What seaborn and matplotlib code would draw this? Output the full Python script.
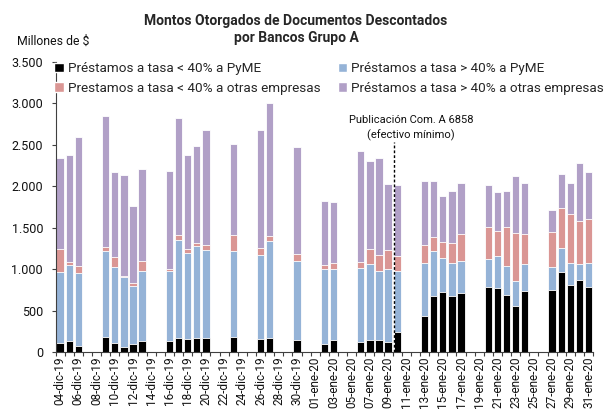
import matplotlib
matplotlib.use("Agg")
import matplotlib.pyplot as plt
import seaborn as sns
import pandas as pd
import numpy as np
from matplotlib.patches import Patch
from matplotlib.ticker import FuncFormatter, FixedLocator

# ---- data ----
all_dates = [f"{d:02d}-dic-19" for d in range(4, 32)] + [f"{d:02d}-ene-20" for d in range(1, 32)]

dates = ["04-dic-19", "05-dic-19", "06-dic-19", "09-dic-19", "10-dic-19", "11-dic-19",
         "12-dic-19", "13-dic-19", "16-dic-19", "17-dic-19", "18-dic-19", "19-dic-19",
         "20-dic-19", "23-dic-19", "26-dic-19", "27-dic-19", "30-dic-19", "02-ene-20",
         "03-ene-20", "06-ene-20", "07-ene-20", "08-ene-20", "09-ene-20", "10-ene-20",
         "13-ene-20", "14-ene-20", "15-ene-20", "16-ene-20", "17-ene-20", "20-ene-20",
         "21-ene-20", "22-ene-20", "23-ene-20", "24-ene-20", "27-ene-20", "28-ene-20",
         "29-ene-20", "30-ene-20", "31-ene-20"]

pyme_low = [110, 133, 69, 182, 114, 65, 93, 133, 133, 170, 162, 170, 170, 182, 157, 170,
            142, 93, 142, 121, 142, 142, 126, 235, 434, 678, 722, 670, 714, 787, 775, 686,
            557, 731, 743, 961, 811, 868, 787]
pyme_high = [858, 916, 887, 1033, 915, 843, 706, 840, 847, 1178, 1028, 1105, 1057, 1033,
             1017, 1173, 955, 904, 855, 892, 915, 831, 871, 738, 635, 540, 415, 407, 387,
             335, 379, 347, 302, 334, 286, 290, 258, 189, 282]
otras_low = [271, 36, 81, 48, 121, 5, 32, 121, 21, 68, 56, 36, 60, 201, 77, 57, 81, 56, 72,
             76, 182, 193, 237, 189, 222, 166, 187, 238, 323, 391, 303, 472, 574, 356, 423,
             484, 593, 521, 537]
otras_high = [1101, 1291, 1561, 1589, 1024, 1226, 932, 1117, 1182, 1412, 1134, 1178, 1387,
              1089, 1428, 1601, 1295, 774, 742, 1336, 1072, 1174, 795, 851, 778, 685, 560,
              626, 613, 504, 472, 443, 697, 620, 263, 412, 375, 702, 565]

series_names = ["Préstamos a tasa < 40% a PyME",
                "Prestamos a tasa < 40% a otras empresas",
                "Préstamos a tasa > 40% a PyME",
                "Préstamos a tasa > 40% a otras empresas"]
colors = {"pyme_low": "#000000", "pyme_high": "#95B3D7",
          "otras_low": "#DA9694", "otras_high": "#B1A0C7"}

event_text = "Publicación Com. A 6858\n(efectivo mínimo)"

# ---- figure ----
sns.set_theme(style="white")
plt.rcParams['font.family'] = ['Roboto', 'DejaVu Sans']

fig = plt.figure(figsize=(6.04, 4.19), dpi=100)
ax = fig.add_axes([0.092, 0.160, 0.890, 0.692])

df = pd.DataFrame({"fecha": dates,
                   "pyme_low": pyme_low, "pyme_high": pyme_high,
                   "otras_low": otras_low, "otras_high": otras_high})
df["c1"] = df["pyme_low"]
df["c2"] = df["c1"] + df["pyme_high"]
df["c3"] = df["c2"] + df["otras_low"]
df["c4"] = df["c3"] + df["otras_high"]

layers = [("c4", colors["otras_high"]), ("c3", colors["otras_low"]),
          ("c2", colors["pyme_high"]), ("c1", colors["pyme_low"])]
for col, colr in layers:
    sns.barplot(data=df, x="fecha", y=col, order=all_dates, color=colr, saturation=1,
                errorbar=None, width=0.8, edgecolor="white", linewidth=0.6, ax=ax)

ax.set_xlim(-0.5, len(all_dates) - 0.5)
ax.set_ylim(0, 3500)
ax.set_xlabel("")
ax.set_ylabel("")

ax.set_yticks(np.arange(0, 3501, 500))
ax.yaxis.set_major_formatter(FuncFormatter(lambda v, p: f"{int(v):,}".replace(",", ".")))
ax.tick_params(axis="y", which="major", length=3, width=0.8, color="#404040",
               labelsize=9, pad=6, left=True, labelcolor="#111111")

ax.set_xticks(range(len(all_dates)))
ax.set_xticklabels([lab if i % 2 == 0 else "" for i, lab in enumerate(all_dates)],
                   rotation=90, fontsize=8.5, color="#111111")
ax.tick_params(axis="x", which="major", length=0, pad=3)
ax.xaxis.set_minor_locator(FixedLocator(np.arange(-0.5, len(all_dates), 1.0)))
ax.tick_params(axis="x", which="minor", length=3, width=0.8, color="#404040", bottom=True)

for s in ["top", "right"]:
    ax.spines[s].set_visible(False)
for s in ["left", "bottom"]:
    ax.spines[s].set_color("#404040")
    ax.spines[s].set_linewidth(0.8)

# event line
xi = all_dates.index("09-ene-20") + 0.6
ax.plot([xi, xi], [0, 2540], color="black", linestyle=(0, (2, 1.5)), linewidth=1.0, zorder=5)
ax.text(xi + 1.9, 2705, event_text, ha="center", va="center", fontsize=8,
        color="#111111", linespacing=1.45)

# legend
handles = [Patch(facecolor=colors["pyme_low"]), Patch(facecolor=colors["otras_low"]),
           Patch(facecolor=colors["pyme_high"]), Patch(facecolor=colors["otras_high"])]
fig.legend(handles, series_names, ncol=2, loc="upper left",
           bbox_to_anchor=(0.090, 0.852), frameon=False, fontsize=9.7,
           handlelength=0.7, handleheight=0.7, handletextpad=0.3,
           columnspacing=1.3, labelspacing=0.5, borderaxespad=0, borderpad=0)

fig.text(0.49, 0.93, "Montos Otorgados de Documentos Descontados\npor Bancos Grupo A",
         ha="center", va="center", fontsize=10, fontweight="bold", linespacing=1.3)
fig.text(0.028, 0.902, "Millones de $", ha="left", va="center", fontsize=8.8, color="#111111")

fig.savefig("out.png", dpi=100)
